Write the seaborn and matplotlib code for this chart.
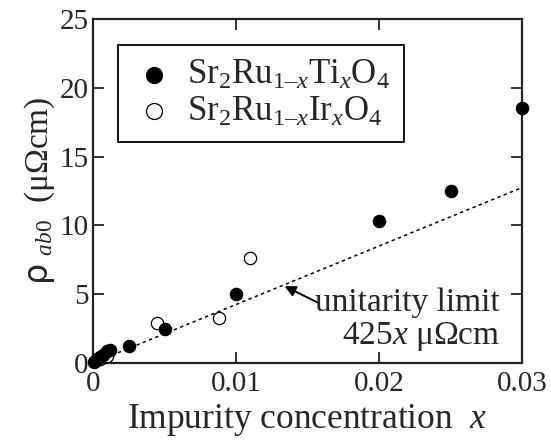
import numpy as np
import pandas as pd
import matplotlib
matplotlib.use("Agg")
import matplotlib.pyplot as plt
import seaborn as sns

# Data
ti_x = [0.0001, 0.0002, 0.0003, 0.0005, 0.0007, 0.001, 0.0012, 0.0025, 0.005, 0.01, 0.02, 0.025, 0.03]
ti_rho = [0.1, 0.2, 0.3, 0.45, 0.6, 0.85, 0.95, 1.2, 2.5, 5.0, 10.3, 12.5, 18.55]
ir_x = [0.0005, 0.0008, 0.001, 0.0045, 0.0088, 0.011]
ir_rho = [0.3, 0.4, 0.5, 2.9, 3.3, 7.6]
limit_x = [0.0, 0.03]
limit_slope = 425

sns.set_style("ticks")
plt.rcParams['font.family'] = ['Liberation Serif', 'DejaVu Serif']
plt.rcParams['mathtext.fontset'] = 'custom'
plt.rcParams['mathtext.rm'] = 'Liberation Serif'
plt.rcParams['mathtext.it'] = 'Liberation Serif:italic'
plt.rcParams['mathtext.bf'] = 'Liberation Serif:bold'
plt.rcParams['mathtext.sf'] = 'DejaVu Sans'

W, H = 551, 440
fig = plt.figure(figsize=(W / 100, H / 100), dpi=100)
ax = fig.add_axes([93 / W, 1 - 363 / H, (522 - 93) / W, (363 - 19) / H])

lab_ti = r'Sr$_2$Ru$_{1\mathrm{–}x}$Ti$_x$O$_4$'
lab_ir = r'Sr$_2$Ru$_{1\mathrm{–}x}$Ir$_x$O$_4$'

lx = np.array(limit_x)
sns.lineplot(x=lx, y=limit_slope * lx, ax=ax, color='black', linestyle=(0, (2.2, 2.2)),
             linewidth=1.1, zorder=1)

df_ti = pd.DataFrame({'x': ti_x, 'rho': ti_rho})
df_ir = pd.DataFrame({'x': ir_x, 'rho': ir_rho})
sns.scatterplot(data=df_ir, x='x', y='rho', ax=ax, marker='o', s=78, facecolor='white',
                edgecolor='black', linewidth=0.9, label=lab_ir, zorder=3, clip_on=False)
sns.scatterplot(data=df_ti, x='x', y='rho', ax=ax, marker='o', s=78, color='black',
                edgecolor='black', linewidth=0.9, label=lab_ti, zorder=4, clip_on=False)

ax.set_xlim(0, 0.03)
ax.set_ylim(0, 25)
ax.set_xticks([0, 0.01, 0.02, 0.03])
ax.set_xticklabels(['0', '0.01', '0.02', '0.03'])
ax.set_yticks([0, 5, 10, 15, 20, 25])
ax.tick_params(direction='in', length=8, width=1.3, labelsize=21, top=True, right=True,
               color='#222222')
ax.tick_params(axis='x', pad=6)
ax.tick_params(axis='y', pad=3)
for s in ax.spines.values():
    s.set_linewidth(1.6)
    s.set_color('#222222')
ax.set_xlabel(r'Impurity concentration  $x$', fontsize=25.5, labelpad=3)
ax.set_ylabel(r'$\mathsf{\rho}$ $_{ab0}$  ($\mathrm{\mu\Omega}$cm)', fontsize=24, labelpad=2)

handles, labels = ax.get_legend_handles_labels()
order = [labels.index(lab_ti), labels.index(lab_ir)]
leg = fig.legend([handles[i] for i in order], [labels[i] for i in order],
                 loc='upper left', bbox_to_anchor=(118 / W, 1 - 45 / H), borderaxespad=0,
                 fontsize=25, frameon=True, fancybox=False, edgecolor='black', framealpha=1,
                 handletextpad=0.3, borderpad=0.4, labelspacing=0.1, handlelength=1.3,
                 markerscale=1.3)
leg.get_frame().set_linewidth(1.3)
if ax.get_legend():
    ax.get_legend().remove()

ax.annotate('', xy=(0.0134, 5.58), xytext=(0.0157, 4.4),
            arrowprops=dict(arrowstyle='-|>', color='black', lw=1.4, mutation_scale=16,
                            shrinkA=0, shrinkB=0))
ax.text(0.02847, 3.77, 'unitarity limit', ha='right', va='baseline', fontsize=24)
ax.text(0.02847, 1.38, r'425$x$ $\mathrm{\mu\Omega}$cm', ha='right', va='baseline', fontsize=24)

fig.savefig('out.png', dpi=100)
